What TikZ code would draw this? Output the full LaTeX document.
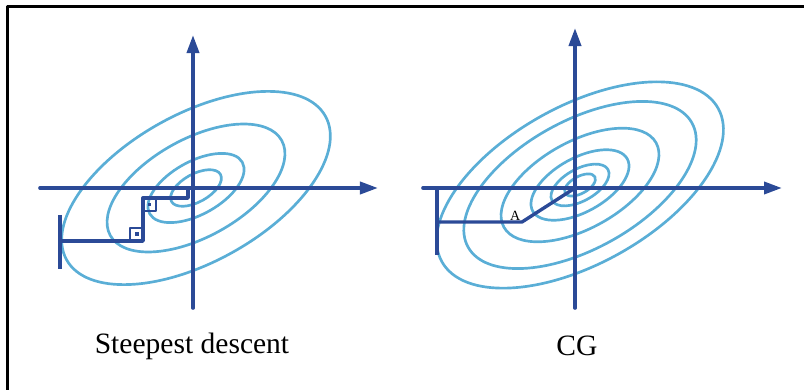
\documentclass[tikz,border=0pt]{standalone}
\usepackage{fontspec}
\setmainfont{Liberation Serif}
\usepackage{tikz}
\usetikzlibrary{arrows.meta}
\definecolor{my_darkblue}{HTML}{2B4A97}
\definecolor{my_lightblue}{HTML}{5AAED6}

\begin{document}
\begin{tikzpicture}[
    line cap=round,
    line join=round,
    >={Triangle[length=0.45cm, width=0.3cm]},
    axis/.style={line width=2.6pt, draw=my_darkblue},
    contour/.style={line width=1.9pt, draw=my_lightblue},
    route/.style={line width=2.4pt, draw=my_darkblue, line cap=butt},
    every node/.style={font=\fontsize{21}{25}\selectfont}
]

% Global scale: one unit is one pixel of the reference
\begin{scope}[x=0.025cm,y=0.025cm]

\useasboundingbox (0,0) rectangle (804,389);
\clip (0,0) rectangle (804,389);

% Frame, only top and left edges are visible
\draw[line width=2.4pt, line cap=butt]
    (820,382.5) -- (7.5,382.5) -- (7.5,-10);

% ---------------- Steepest descent ----------------
\coordinate (sd-origin) at (193,201);
\coordinate (sd-centre) at (196,201);

% Level sets
\foreach \r in {148,98,53,28} {
  \draw[contour, rotate around={29:(sd-centre)}]
    (sd-centre) ellipse [x radius=\r, y radius=0.5*\r];
}

% Axes
\draw[axis, ->] (40,201) -- (378,201);
\draw[axis, ->] (193,81) -- (193,354);

% Start marker
\draw[route] (60,174) -- (60,120);

% Orthogonal steps
\coordinate (sd-start) at (60,148);
\coordinate (sd-1) at (143,148);
\coordinate (sd-2) at (143,191);
\coordinate (sd-3) at (188,191);
\coordinate (sd-end) at (188,201);
\draw[route] (sd-start) -- (sd-1) -- (sd-2) -- (sd-3) -- (sd-end);

% Right angle marks
\draw[line width=2pt, draw=my_darkblue] (130,148) rectangle (143,161);
\fill[my_darkblue] (135,153) rectangle (138.5,156.5);
\draw[line width=2pt, draw=my_darkblue] (143,191) rectangle (156,178);
\fill[my_darkblue] (147.8,182.8) rectangle (151.3,186.3);

% Label
\node (sd-label) at (192,43) {Steepest descent};

% ---------------- Conjugate gradient ----------------
\coordinate (cg-origin) at (575,201);
\coordinate (cg-centre) at (580,204);

% Level sets
\foreach \r in {158,128,87,54,32,17} {
  \draw[contour, rotate around={29:(cg-centre)}]
    (cg-centre) ellipse [x radius=\r, y radius=0.5*\r];
}

% Axes
\draw[axis, ->] (423,201) -- (782,201);
\draw[axis, ->] (575,81) -- (575,361);

% Start marker
\draw[route] (437,201) -- (437,134);

% Two steps
\coordinate (cg-start) at (437,167);
\coordinate (cg-A) at (522,167);
\draw[route] (cg-start) -- (cg-A) -- (cg-origin);
\node[font=\fontsize{10}{12}\selectfont, anchor=south east, inner sep=1pt]
    (cg-A-label) at (cg-A) {A};

% Label
\node (cg-label) at (577,43) {CG};

\end{scope}
\end{tikzpicture}
\end{document}
